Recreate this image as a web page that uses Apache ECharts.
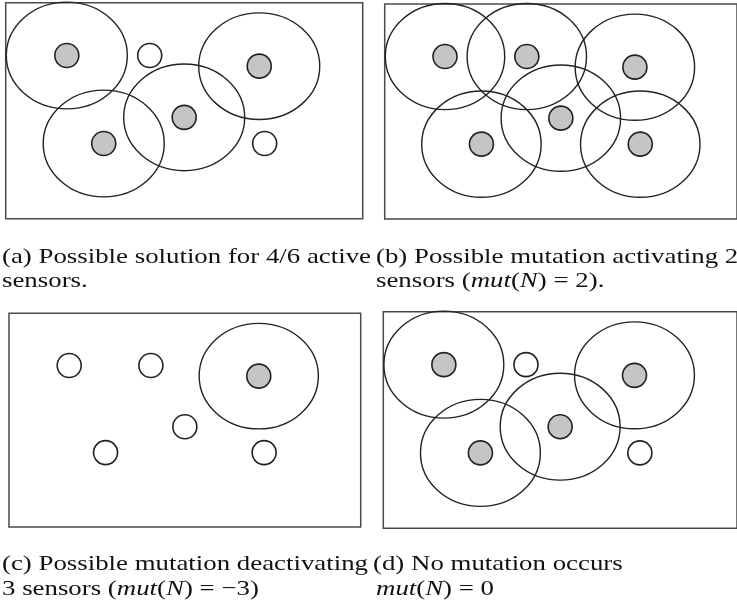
<!DOCTYPE html>
<html>
<head>
<meta charset="utf-8">
<script src="https://cdn.jsdelivr.net/npm/echarts@6/dist/echarts.min.js"></script>
<style>
  html, body { margin: 0; padding: 0; background: #fff; }
  #chart { width: 737px; height: 609px; }
</style>
</head>
<body>
<div id="chart"></div>
<script>
// Sensor field (data units): field 0..59 x 0..40.5, sensing radius 10
const fieldWidth = 59;
const fieldHeight = 40.5;
const sensingRadius = 10;
const sensorX = [10.1, 23.8, 41.9, 29.5, 16.2, 42.8];
const sensorY = [30.6, 30.6, 28.6, 19.0, 14.1, 14.1];

// Active state (1 = active) for each panel
const activeA = [1, 0, 1, 1, 1, 0];
const activeB = [1, 1, 1, 1, 1, 1];
const activeC = [0, 0, 1, 0, 0, 0];
const activeD = [1, 0, 1, 1, 1, 0];

// Captions
const captionA = ['(a) Possible solution for 4/6 active', 'sensors.'];
const captionB = ['(b) Possible mutation activating 2', 'sensors ({i|mut}({i|N}) = 2).'];
const captionC = ['(c) Possible mutation deactivating', '3 sensors ({i|mut}({i|N}) = \u22123)'];
const captionD = ['(d) No mutation occurs', '{i|mut}({i|N}) = 0'];

const panels = [
  { active: activeA, grid: { left: 5.7, top: 2.7, width: 357, height: 216 } },
  { active: activeB, grid: { left: 384.7, top: 4, width: 357, height: 215 } },
  { active: activeC, grid: { left: 9, top: 313.3, width: 351.7, height: 213.7 } },
  { active: activeD, grid: { left: 383.3, top: 311.7, width: 357, height: 216.6 } }
];

const grids = [], xAxes = [], yAxes = [], series = [];
panels.forEach((p, i) => {
  grids.push(Object.assign({
    show: true, backgroundColor: '#fff', borderColor: '#4a4a4a', borderWidth: 1.5,
    containLabel: false
  }, p.grid));
  xAxes.push({ type: 'value', gridIndex: i, min: 0, max: fieldWidth, show: false });
  yAxes.push({ type: 'value', gridIndex: i, min: 0, max: fieldHeight, show: false });
  const rangeData = [];
  sensorX.forEach((x, k) => { if (p.active[k]) rangeData.push([x, sensorY[k], sensingRadius]); });
  series.push({
    type: 'custom', xAxisIndex: i, yAxisIndex: i, clip: false, silent: true,
    data: rangeData,
    renderItem: function (params, api) {
      const c = api.coord([api.value(0), api.value(1)]);
      const s = api.size([api.value(2), api.value(2)]);
      return {
        type: 'ellipse',
        shape: { cx: c[0], cy: c[1], rx: s[0], ry: s[1] },
        style: { fill: 'none', stroke: '#222', lineWidth: 1.4 }
      };
    }
  });
  series.push({
    type: 'scatter', xAxisIndex: i, yAxisIndex: i, symbol: 'circle', symbolSize: 24,
    silent: true, z: 5,
    data: sensorX.map((x, k) => ({
      value: [x, sensorY[k]],
      itemStyle: { color: p.active[k] ? '#c4c6c4' : '#ffffff', borderColor: '#222', borderWidth: 1.6, opacity: 1 }
    }))
  });
});

const capFont = 'Liberation Serif';
const capSize = 22;
const capScale = 1.22;
function capText(text, x, y) {
  return {
    type: 'text', x: x, y: y, scaleX: capScale, scaleY: 1, silent: true,
    style: {
      text: text, fill: '#111', fontFamily: capFont, fontSize: capSize,
      align: 'left', verticalAlign: 'middle',
      rich: { i: { fontStyle: 'italic', fontFamily: capFont, fontSize: capSize, fill: '#111' } }
    }
  };
}
const graphics = [
  capText(captionA[0], 2, 257), capText(captionA[1], 2, 281.5),
  capText(captionB[0], 376, 257), capText(captionB[1], 376, 281.5),
  capText(captionC[0], 2, 564.5), capText(captionC[1], 2, 589),
  capText(captionD[0], 373, 564.5), capText(captionD[1], 376, 589)
];

const chart = echarts.init(document.getElementById('chart'), null, { renderer: 'canvas' });
chart.setOption({
  animation: false,
  backgroundColor: '#fff',
  grid: grids,
  xAxis: xAxes,
  yAxis: yAxes,
  series: series,
  graphic: graphics
});
</script>
</body>
</html>
